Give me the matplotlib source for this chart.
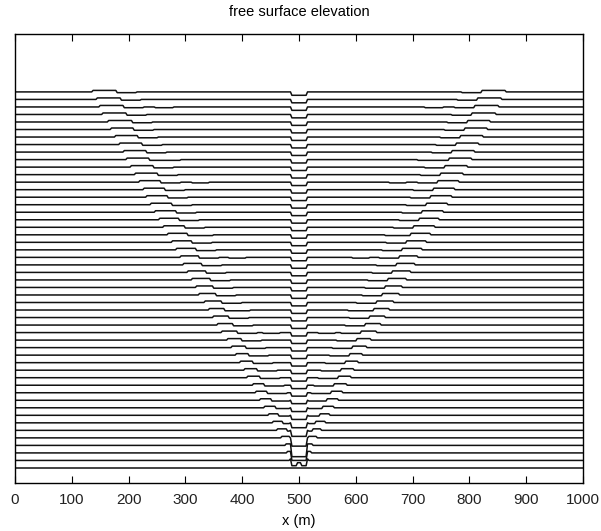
import numpy as np
import matplotlib
matplotlib.use('Agg')
import matplotlib.pyplot as plt

# outer edge of the left-going crest for each time line (m), line 1 .. 50
left_front = [484, 480, 476, 469, 462, 455, 447, 440, 432, 425,
              418, 409, 403, 396, 388, 381, 373, 364, 356, 348,
              341, 333, 325, 319, 312, 305, 297, 291, 284, 276,
              270, 262, 254, 246, 240, 232, 226, 218, 212, 205,
              197, 191, 184, 176, 169, 164, 155, 150, 144, 136]
# outer edge of the right-going crest (m)
right_front = [516, 520, 524, 531, 539, 546, 553, 560, 568, 576,
               583, 591, 597, 604, 612, 619, 627, 636, 644, 652,
               659, 667, 675, 681, 688, 695, 703, 709, 716, 724,
               730, 738, 746, 754, 760, 768, 774, 782, 788, 795,
               803, 809, 816, 824, 831, 837, 845, 850, 856, 864]
# crest width (m)
crest_len = [10, 12, 14, 15, 16, 17, 18, 19, 20, 20,
             21, 22, 23, 24, 24, 25, 26, 27, 28, 28,
             29, 30, 30, 31, 32, 32, 33, 34, 34, 35,
             35, 36, 36, 37, 37, 38, 38, 39, 39, 40,
             40, 40, 41, 41, 41, 42, 42, 42, 43, 43]
# depth of the central drawdown (in line spacings), line 0 .. 50
center_depth = [0.0, 0.7, 1.0, 1.5, 1.1, 0.8, 0.65, 0.55, 0.5] + [0.45] * 42
# short trailing dips seen on a few lines (left side, m)
trail_dips = {48: (247, 279), 41: (261, 291), 38: (312, 340), 31: (321, 349),
              28: (376, 406), 21: (384, 414), 18: (437, 467)}

crest_h = 0.2
tail_h = -0.1
tail_len = 35

x = np.arange(0, 1000.1, 2.5)

fig = plt.figure(figsize=(6.01, 5.31), dpi=100)
ax = fig.add_axes([15 / 601, 48 / 531, 568 / 601, 449 / 531])

for i in range(51):
    eta = np.zeros_like(x)
    if i > 0:
        lf = left_front[i - 1]
        rf = right_front[i - 1]
        cl = crest_len[i - 1]
        # crests moving outward
        eta[(x >= lf) & (x < lf + cl)] = crest_h
        eta[(x > rf - cl) & (x <= rf)] = crest_h
        # small trough behind them
        eta[(x >= lf + cl) & (x < lf + cl + tail_len) & (x < 485)] = tail_h
        eta[(x > rf - cl - tail_len) & (x <= rf - cl) & (x > 515)] = tail_h
        if i in trail_dips:
            a, b = trail_dips[i]
            eta[(x >= a) & (x <= b)] = tail_h
            eta[(x >= 1000 - b) & (x <= 1000 - a)] = tail_h
        # central drawdown
        well = (x >= 486) & (x <= 514)
        eta[well] = -center_depth[i]
        if i == 1:
            eta[(x >= 496) & (x <= 504)] = -0.3
    ax.plot(x, i + eta, color='#111111', linewidth=1.1)

ax.set_xlim(0, 1000)
ax.set_ylim(-2, 57.7)
ax.set_xticks(np.arange(0, 1001, 100))
ax.set_yticks([])
ax.tick_params(axis='x', direction='in', length=5, top=True, labelsize=11, pad=7,
               labelcolor='#222222')
for lab in ax.get_xticklabels():
    lab.set_family('Liberation Sans')
for s in ax.spines.values():
    s.set_linewidth(1.0)
ax.set_xlabel('x (m)', fontsize=10.5, family='Liberation Sans', labelpad=5)
ax.set_title('free surface elevation', fontsize=10.5, family='Liberation Sans', pad=13)

fig.savefig('out.png', dpi=100)
